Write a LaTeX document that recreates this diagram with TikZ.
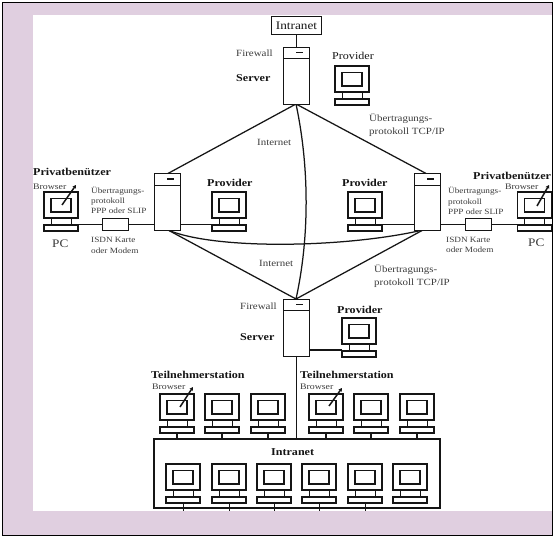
\documentclass[tikz,border=0pt]{standalone}
\usepackage{fontspec}
\setmainfont{Liberation Serif}
\newfontfamily\wide[FakeStretch=1.15]{Liberation Serif}
\usetikzlibrary{arrows.meta}
\definecolor{bgpink}{HTML}{E0CFE0}
\definecolor{ink}{HTML}{151515}
\definecolor{soft}{HTML}{3C3C3C}
\tikzset{
  x=1pt,y=-1pt,
  lbl/.style={anchor=west,inner sep=0pt,text=soft,font=\wide\fontsize{9.5}{9.5}\selectfont,align=left},
  lblb/.style={anchor=west,inner sep=0pt,text=soft,font=\wide\fontsize{8.5}{8.5}\selectfont,align=left},
  lblc/.style={anchor=west,inner sep=0pt,text=soft,font=\wide\fontsize{8}{10.3}\selectfont,align=left},
  lblw/.style={anchor=west,inner sep=0pt,text=soft,font=\wide\fontsize{9.5}{12.5}\selectfont,align=left},
  head/.style={anchor=west,inner sep=0pt,text=ink,font=\wide\fontsize{10.5}{10.5}\bfseries\selectfont},
  link/.style={draw=ink,line width=1.25pt},
  thinlink/.style={draw=ink,line width=.8pt},
  box/.style={draw=ink,line width=.9pt,fill=white},
  mon/.pic={
    \draw[ink,line width=1.1pt,fill=white] (0,0) rectangle (34,26);
    \draw[ink,line width=1.3pt] (7,6.5) rectangle (27,20);
    \draw[ink,line width=1pt] (7,26) -- (7,33) (27,26) -- (27,33);
    \draw[ink,line width=1.1pt,fill=white] (0,33) rectangle (34,39);
    \coordinate (-west) at (0,32.5);
    \coordinate (-east) at (34,32.5);
    \coordinate (-south) at (17,39);
  },
  srv/.pic={
    \draw[ink,line width=.9pt,fill=white] (0,0) rectangle (26,57);
    \draw[ink,line width=1pt] (0,12) -- (26,12);
    \draw[ink,line width=1.2pt] (13,5.5) -- (20,5.5);
  },
}
\begin{document}
\begin{tikzpicture}
\useasboundingbox (0,0) rectangle (555,537);
\fill[white] (0,0) rectangle (555,537);
\fill[bgpink] (2.5,2.5) rectangle (552.5,535);
\fill[white] (33,15) rectangle (552,511);
\draw[black,line width=.9pt] (2.5,2.5) rectangle (552.5,535);

% network links
\coordinate (topB) at (296,104);
\coordinate (leftT) at (167,174);
\coordinate (rightT) at (427,174);
\coordinate (leftB) at (168,230);
\coordinate (rightB) at (423,230);
\coordinate (botT) at (296,299);
\draw[link] (topB) -- (leftT);
\draw[link] (topB) -- (rightT);
\draw[link] (leftB) -- (botT);
\draw[link] (rightB) -- (botT);
\draw[link] (topB) .. controls (310,170) and (309,240) .. (botT);
\draw[link] (leftB) .. controls (215,250) and (345,248) .. (rightB);

% servers
\pic (s1) at (283,47) {srv};
\pic (s2) at (154,173.5) {srv};
\pic (s3) at (414,173.5) {srv};
\pic (s4) at (283,299) {srv};

% top intranet
\node[draw=ink,line width=1.5pt,fill=white,inner sep=0pt,minimum width=50pt,minimum height=18pt,font=\wide\fontsize{11.5}{11.5}\selectfont,text=ink] (topnet) at (296.5,25.5) {Intranet};
\coordinate (s1top) at (296,47);
\draw[thinlink] (topnet.south -| s1top) -- (s1top);

% monitors
\pic (pcL) at (44,192) {mon};
\pic (provL) at (212,192) {mon};
\pic (provR) at (348,192) {mon};
\pic (pcR) at (517.5,192) {mon};
\pic (provT) at (335,66) {mon};
\pic (provB) at (342,318) {mon};
\foreach \x [count=\i] in {160,205,251,309,354,400}
  \pic (t\i) at (\x,394) {mon};
\node[draw=ink,line width=1.3pt,fill=white,inner sep=0pt,minimum width=286pt,minimum height=69pt] (bigbox) at (297,473.5) {};
\foreach \x [count=\i] in {166,212,257,302,348,393}
  \pic (n\i) at (\x,464) {mon};
\foreach \i in {1,...,6}
  \draw[link] (t\i-south) -- (t\i-south |- bigbox.north);
\foreach \i in {1,...,5}
  \draw[thinlink] (n\i-south) -- ++(0,8);

% server/provider links
\coordinate (s4bot) at (296,356);
\draw[thinlink] (s4bot) -- (s4bot |- bigbox.north);
\coordinate (s2e) at (180,224.5);
\coordinate (s3w) at (414,224.5);
\coordinate (s3e) at (440,224.5);
\coordinate (s2w) at (154,224.5);
\coordinate (s4e) at (309,350);
\node[box,inner sep=0pt,minimum width=26pt,minimum height=12pt] (modL) at (115,224.5) {};
\node[box,inner sep=0pt,minimum width=26pt,minimum height=12pt] (modR) at (478.5,224.5) {};
\draw[link] (pcL-east) -- (modL);
\draw[link] (modL) -- (s2w);
\draw[link] (s2e) -- (provL-west);
\draw[link] (provR-east) -- (s3w);
\draw[link] (s3e) -- (modR);
\draw[link] (modR) -- (pcR-west);
\draw[link] (s4e) -- (s4e -| provB-west);

% labels
\node[lbl] (fw1) at (236,53) {Firewall};
\node[head] (sv1) at (236,78.5) {Server};
\node[lbl,font=\wide\fontsize{10.5}{10.5}\selectfont,text=ink] (pt) at (332,56) {Provider};
\node[lbl] (in1) at (257,142) {Internet};
\node[lbl] (in2) at (259,263) {Internet};
\node[lblw] (tcp1) at (369,125) {Übertragungs-\\protokoll TCP/IP};
\node[lblw] (tcp2) at (374,276) {Übertragungs-\\protokoll TCP/IP};

\node[head] (pbL) at (33,172) {Privatbenützer};
\node[lblb] (brL) at (33,187) {Browser};
\node[lblc] (upL) at (91,200.5) {Übertragungs-\\protokoll\\PPP oder SLIP};
\node[lblc] (isL) at (91,245.5) {ISDN Karte\\oder Modem};
\node[lbl,font=\wide\fontsize{11.5}{11.5}\selectfont] (pcLt) at (52,244) {PC};
\node[head] (prL) at (207,183) {Provider};

\node[head] (prR) at (342,183) {Provider};
\node[head] (pbR) at (473,175.5) {Privatbenützer};
\node[lblb] (brR) at (505,187) {Browser};
\node[lblc] (upR) at (448,201) {Übertragungs-\\protokoll\\PPP oder SLIP};
\node[lblc] (isR) at (446,245) {ISDN Karte\\oder Modem};
\node[lbl,font=\wide\fontsize{11.5}{11.5}\selectfont] (pcRt) at (528,243) {PC};

\node[lbl] (fw2) at (240,306) {Firewall};
\node[head] (sv2) at (240,337) {Server};
\node[head] (pb) at (337,309.5) {Provider};
\node[head] (tl) at (151,375) {Teilnehmerstation};
\node[head] (tr) at (300,375) {Teilnehmerstation};
\node[lblb] (bl) at (152,387) {Browser};
\node[lblb] (br) at (300,387) {Browser};
\node[head] (inb) at (271,452) {Intranet};

% browser pointers
\tikzset{ptr/.style={draw=ink,line width=1.5pt,-{Stealth[length=3.5pt,width=4pt]}}}
\coordinate (a1s) at (62,205); \coordinate (a1e) at (76,185);
\coordinate (a2s) at (180,407); \coordinate (a2e) at (193,387);
\coordinate (a3s) at (329,406); \coordinate (a3e) at (342,388);
\coordinate (a4s) at (537,206); \coordinate (a4e) at (549,185);
\draw[ptr] (a1s) -- (a1e);
\draw[ptr] (a2s) -- (a2e);
\draw[ptr] (a3s) -- (a3e);
\draw[ptr] (a4s) -- (a4e);
\end{tikzpicture}
\end{document}
